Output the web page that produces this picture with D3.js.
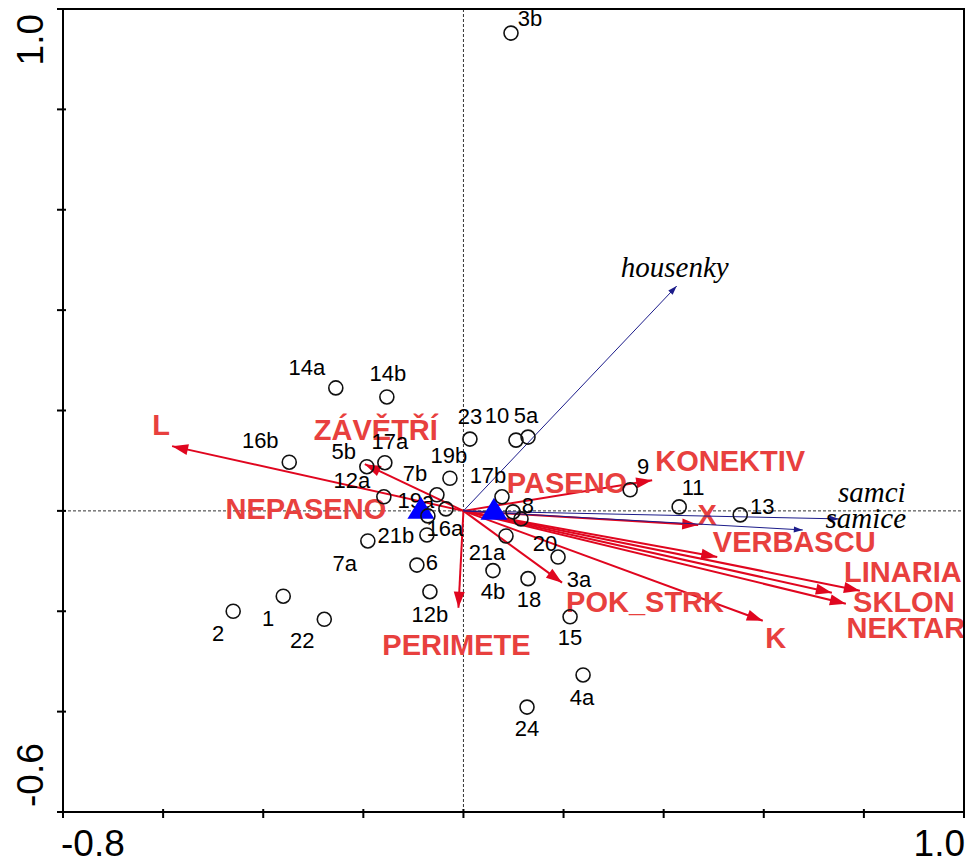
<!DOCTYPE html>
<html>
<head>
<meta charset="utf-8">
<script src="https://cdn.jsdelivr.net/npm/d3@7/dist/d3.min.js"></script>
<style>
  html, body { margin: 0; padding: 0; background: #fff; }
  svg { display: block; }
</style>
</head>
<body>
<svg id="chart" width="967" height="863"></svg>
<script>
// ---- Sample (site) scores ----
const siteNames = ["3b","14a","14b","23","10","5a","16b","17a","5b","12a","19b","17b",
  "7b","16a","19a","21b","7a","6","12b","4b","18","3a","21a","8","20","9","11","13",
  "15","4a","24","2","1","22"];
const siteX = [0.095,-0.255,-0.153,0.013,0.105,0.129,-0.348,-0.157,-0.193,-0.159,-0.027,0.077,
  -0.053,-0.035,-0.071,-0.073,-0.191,-0.093,-0.067,0.059,0.129,0.189,0.085,0.099,0.115,0.333,0.431,0.553,
  0.213,0.239,0.127,-0.460,-0.360,-0.278];
const siteY = [0.952,0.245,0.227,0.143,0.141,0.147,0.097,0.096,0.088,0.028,0.065,0.028,
  0.032,0.004,-0.010,-0.048,-0.060,-0.108,-0.161,-0.119,-0.135,-0.092,-0.050,-0.002,-0.016,0.042,0.008,-0.008,
  -0.211,-0.327,-0.391,-0.200,-0.170,-0.216];

// ---- Environmental variables (arrow tips) ----
const envNames = ["L","ZÁVĚTŘÍ","KONEKTIV","X","VERBASCU","LINARIA","SKLON","NEKTAR","K","POK_STRK","PERIMETE"];
const envX = [-0.582,-0.197,0.377,0.469,0.507,0.792,0.736,0.764,0.598,0.197,-0.010];
const envY = [0.129,0.093,0.061,-0.028,-0.092,-0.159,-0.163,-0.185,-0.219,-0.143,-0.193];

// ---- Nominal variable centroids ----
const groupNames = ["NEPASENO","PASENO"];
const groupX = [-0.085, 0.061];
const groupY = [0.006, 0.004];

// ---- Species (arrow tips) ----
const speciesNames = ["housenky","samci","samice"];
const speciesX = [0.426, 0.750, 0.678];
const speciesY = [0.448, -0.016, -0.038];

// ---- Axis ----
const xTickLabels = ["-0.8","1.0"];
const yTickLabels = ["-0.6","1.0"];

// ---- Label placement (pixel offsets from each mark) ----
const siteLabelOffsets = [[19,-15],[-29,-21],[1,-24],[0,-23],[-19,-25],[-2,-22],[-29,-22],[5,-21],[-23,-15],[-32,-17],[-1,-23],[-14,-22],
  [-22,-22],[-1,19],[-12,-16],[-31,0],[-23,22],[15,-3],[0,23],[0,21],[1,21],[21,22],[-19,16],[15,-7],[24,24],[13,-23],[14,-20],[22,-9],
  [0,21],[-1,22],[0,21],[-15,22],[-15,22],[-22,21]];
const envLabelOffsets = [[-11,-11],[11,-24],[78,-9],[9,0],[77,-5],[43,-9],[72,19],[60,34],[13,27],[83,29],[-2,47]];
const groupLabelOffsets = [[-115,11],[73,-16]];
const speciesLabelOffsets = [[-2,-9],[33,-17],[63,-2]];

const svg = d3.select("#chart");
const x = d3.scaleLinear().domain([-0.8, 1.0]).range([63, 964]);
const y = d3.scaleLinear().domain([-0.6, 1.0]).range([812, 9]);
const ox = x(0), oy = y(0);

const RED = "#e0061f", RED_TEXT = "#e8403e", NAVY = "#1c1c8a";

function arrowHead(x1, y1, x2, y2, len, hw) {
  const a = Math.atan2(y2 - y1, x2 - x1);
  const bx = x2 - len * Math.cos(a), by = y2 - len * Math.sin(a);
  const px = -Math.sin(a) * hw, py = Math.cos(a) * hw;
  return `M${x2},${y2}L${bx + px},${by + py}L${bx - px},${by - py}Z`;
}

// zero lines
svg.append("line").attr("x1", ox).attr("x2", ox).attr("y1", y(1.0)).attr("y2", y(-0.6))
  .attr("stroke", "#333").attr("stroke-width", 1).attr("stroke-dasharray", "3,2");
svg.append("line").attr("x1", x(-0.8)).attr("x2", x(1.0)).attr("y1", oy).attr("y2", oy)
  .attr("stroke", "#333").attr("stroke-width", 1).attr("stroke-dasharray", "3,2");

// environmental arrows
const env = envNames.map((n, i) => ({ name: n, x: envX[i], y: envY[i], off: envLabelOffsets[i] }));
const envG = svg.append("g");
envG.selectAll("line").data(env).join("line")
  .attr("x1", ox).attr("y1", oy)
  .attr("x2", d => x(d.x)).attr("y2", d => y(d.y))
  .attr("stroke", RED).attr("stroke-width", 2);
envG.selectAll("path").data(env).join("path")
  .attr("d", d => arrowHead(ox, oy, x(d.x), y(d.y), 16, 5.5))
  .attr("fill", RED);

// species arrows
const sp = speciesNames.map((n, i) => ({ name: n, x: speciesX[i], y: speciesY[i], off: speciesLabelOffsets[i] }));
const spG = svg.append("g");
spG.selectAll("line").data(sp).join("line")
  .attr("x1", ox).attr("y1", oy)
  .attr("x2", d => x(d.x)).attr("y2", d => y(d.y))
  .attr("stroke", NAVY).attr("stroke-width", 1);
spG.selectAll("path").data(sp).join("path")
  .attr("d", d => arrowHead(ox, oy, x(d.x), y(d.y), 9, 3))
  .attr("fill", NAVY);

// environmental labels
envG.selectAll("text").data(env).join("text")
  .attr("x", d => x(d.x) + d.off[0]).attr("y", d => y(d.y) + d.off[1])
  .attr("text-anchor", "middle")
  .attr("font-family", "'Liberation Sans', Arial, sans-serif")
  .attr("font-weight", "bold").attr("font-size", 29)
  .attr("fill", RED_TEXT)
  .text(d => d.name);

// nominal labels
const groups = groupNames.map((n, i) => ({ name: n, x: groupX[i], y: groupY[i], off: groupLabelOffsets[i] }));
svg.append("g").selectAll("text").data(groups).join("text")
  .attr("x", d => x(d.x) + d.off[0]).attr("y", d => y(d.y) + d.off[1])
  .attr("text-anchor", "middle")
  .attr("font-family", "'Liberation Sans', Arial, sans-serif")
  .attr("font-weight", "bold").attr("font-size", 29)
  .attr("fill", RED_TEXT)
  .text(d => d.name);

// species labels
spG.selectAll("text").data(sp).join("text")
  .attr("x", d => x(d.x) + d.off[0]).attr("y", d => y(d.y) + d.off[1])
  .attr("text-anchor", "middle")
  .attr("font-family", "'Liberation Serif', 'Times New Roman', serif")
  .attr("font-style", "italic").attr("font-size", 29)
  .attr("fill", "#000")
  .text(d => d.name);

// site labels
const sites = siteNames.map((n, i) => ({ name: n, x: siteX[i], y: siteY[i], off: siteLabelOffsets[i] }));
svg.append("g").selectAll("text").data(sites).join("text")
  .attr("x", d => x(d.x) + d.off[0]).attr("y", d => y(d.y) + d.off[1])
  .attr("dy", "0.35em")
  .attr("text-anchor", "middle")
  .attr("font-family", "'Liberation Sans', Arial, sans-serif")
  .attr("font-size", 22)
  .attr("fill", "#000")
  .text(d => d.name);

// centroid triangles
svg.append("g").selectAll("path").data(groups).join("path")
  .attr("d", d => {
    const cx = x(d.x), cy = y(d.y);
    return `M${cx},${cy - 11}L${cx + 13.5},${cy + 11}L${cx - 13.5},${cy + 11}Z`;
  })
  .attr("fill", "#0000ff");

// site circles
svg.append("g").selectAll("circle").data(sites).join("circle")
  .attr("cx", d => x(d.x)).attr("cy", d => y(d.y)).attr("r", 7)
  .attr("fill", "none").attr("stroke", "#111").attr("stroke-width", 1.6);

// frame and ticks
svg.append("rect")
  .attr("x", x(-0.8)).attr("y", y(1.0))
  .attr("width", x(1.0) - x(-0.8)).attr("height", y(-0.6) - y(1.0))
  .attr("fill", "none").attr("stroke", "#000").attr("stroke-width", 2);

const tickVals = d3.range(0, 10).map(i => +(-0.8 + i * 0.2).toFixed(1)).filter(v => v <= 1.0);
svg.append("g").selectAll("line").data(tickVals).join("line")
  .attr("x1", d => x(d)).attr("x2", d => x(d))
  .attr("y1", y(-0.6) - 3).attr("y2", y(-0.6) + 6)
  .attr("stroke", "#000").attr("stroke-width", 2);
const yTickVals = d3.range(0, 9).map(i => +(-0.6 + i * 0.2).toFixed(1));
svg.append("g").selectAll("line").data(yTickVals).join("line")
  .attr("x1", x(-0.8) - 6).attr("x2", x(-0.8) + 3)
  .attr("y1", d => y(d)).attr("y2", d => y(d))
  .attr("stroke", "#000").attr("stroke-width", 2);

// tick labels
const axisFont = "'Liberation Sans', Arial, sans-serif";
svg.append("text").attr("x", x(-0.8) - 2).attr("y", 856)
  .attr("text-anchor", "start").attr("font-family", axisFont).attr("font-size", 37)
  .text(xTickLabels[0]);
svg.append("text").attr("x", x(1.0) + 1).attr("y", 856)
  .attr("text-anchor", "end").attr("font-family", axisFont).attr("font-size", 37)
  .text(xTickLabels[1]);
svg.append("text").attr("transform", `translate(43,${y(-0.6) - 5}) rotate(-90)`)
  .attr("text-anchor", "start").attr("font-family", axisFont).attr("font-size", 37)
  .text(yTickLabels[0]);
svg.append("text").attr("transform", `translate(43,${y(1.0) + 5}) rotate(-90)`)
  .attr("text-anchor", "end").attr("font-family", axisFont).attr("font-size", 37)
  .text(yTickLabels[1]);
</script>
</body>
</html>
